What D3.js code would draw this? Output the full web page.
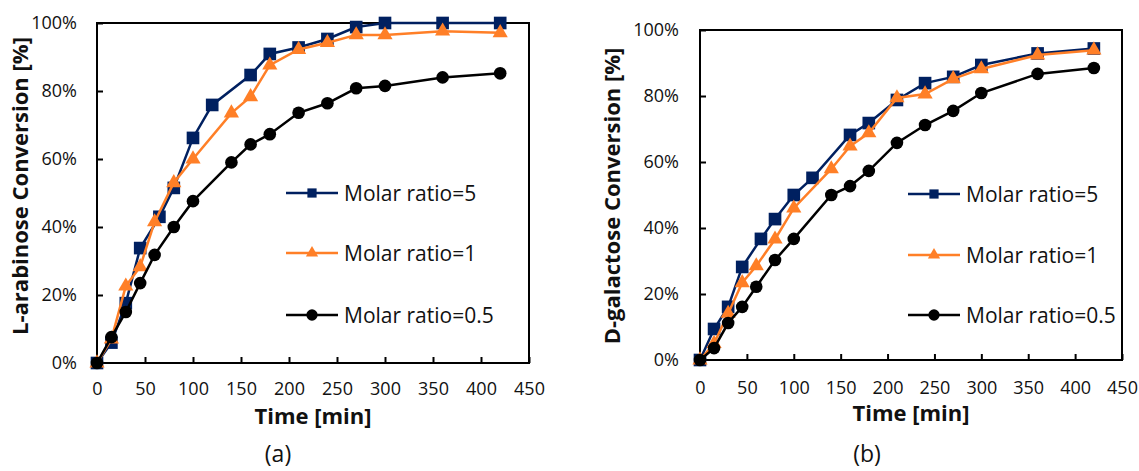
<!DOCTYPE html>
<html>
<head>
<meta charset="utf-8">
<script src="https://cdn.jsdelivr.net/npm/d3@7"></script>
<style>
  body { margin: 0; background: #fff; }
  svg { display: block; }
  text { font-family: "Open Sans", "Noto Sans", sans-serif; fill: #111; }
</style>
</head>
<body>
<svg width="1139" height="471"></svg>
<script>
// Tick values
const xTicks = [0, 50, 100, 150, 200, 250, 300, 350, 400, 450];
const yTicks = [0, 20, 40, 60, 80, 100];

// Series names
const seriesNames = ["Molar ratio=5", "Molar ratio=1", "Molar ratio=0.5"];

// Panel (a): L-arabinose
const timeA5 = [0, 15, 30, 45, 65, 80, 100, 120, 160, 180, 210, 240, 270, 300, 360, 420];
const convA5 = [0, 6, 17.6, 33.8, 43, 51.5, 66.2, 75.9, 84.7, 90.9, 92.8, 95.3, 98.8, 100, 100, 100];
const timeA1 = [0, 15, 30, 45, 60, 80, 100, 140, 160, 180, 210, 240, 270, 300, 360, 420];
const convA1 = [0, 7, 22.6, 28.3, 41.5, 53, 60, 73.5, 78.3, 87.6, 92.2, 94.2, 96.5, 96.5, 97.6, 97.1];
const timeA05 = [0, 15, 30, 45, 60, 80, 100, 140, 160, 180, 210, 240, 270, 300, 360, 420];
const convA05 = [0, 7.6, 15, 23.5, 31.8, 40, 47.6, 59, 64.3, 67.3, 73.6, 76.4, 80.8, 81.5, 84, 85.2];

// Panel (b): D-galactose
const timeB5 = [0, 15, 30, 45, 65, 80, 100, 120, 160, 180, 210, 240, 270, 300, 360, 420];
const convB5 = [0, 9.4, 16.1, 28.2, 36.7, 42.7, 50, 55.2, 68.2, 71.8, 78.8, 83.9, 85.8, 89.4, 92.9, 94.4];
const timeB1 = [0, 15, 30, 45, 60, 80, 100, 140, 160, 180, 210, 240, 270, 300, 360, 420];
const convB1 = [0, 5, 14.1, 23.4, 28.5, 36.6, 46, 57.9, 64.8, 68.8, 79.4, 80.6, 85.2, 88.2, 92.4, 93.9];
const timeB05 = [0, 15, 30, 45, 60, 80, 100, 140, 160, 180, 210, 240, 270, 300, 360, 420];
const convB05 = [0, 3.6, 11.2, 16.1, 22.2, 30.3, 36.7, 50, 52.7, 57.3, 65.8, 71.2, 75.5, 80.9, 86.7, 88.5];

const svg = d3.select("svg");

// style per series
const styles = [
  { color: "#002060", symbol: d3.symbolSquare, size: 160, legSize: 85 },
  { color: "#FF7F27", symbol: d3.symbolTriangle, size: 100, legSize: 65 },
  { color: "#000000", symbol: d3.symbolCircle, size: 125, legSize: 100 }
];

function zip(t, v) {
  return t.map((d, i) => ({ t: d, v: v[i] }));
}

function drawPanel(p) {
  const x = d3.scaleLinear().domain([0, 450]).range([p.left, p.right]);
  const y = d3.scaleLinear().domain([0, 100]).range([p.bottom, p.top]);
  const g = svg.append("g");

  // x axis, ticks pointing inside
  const xAxis = g.append("g")
      .attr("transform", `translate(0,${p.bottom})`)
      .call(d3.axisBottom(x).tickValues(xTicks).tickSizeInner(-6).tickSizeOuter(0).tickPadding(p.xPad));
  xAxis.select(".domain").remove();
  xAxis.selectAll("line").attr("stroke", "#000").attr("stroke-width", 2);
  xAxis.selectAll("text").style("font-size", "18px").attr("fill", "#111");

  // y axis
  const yAxis = g.append("g")
      .attr("transform", `translate(${p.left},0)`)
      .call(d3.axisLeft(y).tickValues(yTicks).tickFormat(d => d + "%")
        .tickSizeInner(-6).tickSizeOuter(0).tickPadding(p.yPad));
  yAxis.select(".domain").remove();
  yAxis.selectAll("line").attr("stroke", "#000").attr("stroke-width", 2);
  yAxis.selectAll("text").style("font-size", "18px").attr("fill", "#111");

  // frame
  g.append("rect")
      .attr("x", p.left).attr("y", p.top)
      .attr("width", p.right - p.left).attr("height", p.bottom - p.top)
      .attr("fill", "none").attr("stroke", "#000").attr("stroke-width", 2);

  const line = d3.line().x(d => x(d.t)).y(d => y(d.v));

  p.series.forEach((s, i) => {
    const st = styles[i];
    const data = zip(s[0], s[1]);
    g.append("path")
        .datum(data)
        .attr("fill", "none")
        .attr("stroke", st.color)
        .attr("stroke-width", 2.5)
        .attr("d", line);
    g.selectAll(null)
      .data(data)
      .join("path")
        .attr("transform", d => `translate(${x(d.t)},${y(d.v)})`)
        .attr("d", d3.symbol().type(st.symbol).size(st.size))
        .attr("fill", st.color);
  });

  // legend
  seriesNames.forEach((name, i) => {
    const st = styles[i];
    const ly = p.legY[i];
    g.append("line")
        .attr("x1", p.legX).attr("x2", p.legX + 52)
        .attr("y1", ly).attr("y2", ly)
        .attr("stroke", st.color).attr("stroke-width", 2.5);
    g.append("path")
        .attr("transform", `translate(${p.legX + 26},${ly})`)
        .attr("d", d3.symbol().type(st.symbol).size(st.legSize))
        .attr("fill", st.color);
    g.append("text")
        .attr("x", p.legX + 58).attr("y", ly)
        .attr("dy", "0.36em")
        .style("font-size", "21px")
        .text(name);
  });

  // axis titles
  g.append("text")
      .attr("x", (p.left + p.right) / 2).attr("y", p.bottom + 61)
      .attr("text-anchor", "middle")
      .style("font-size", "22px").style("font-weight", "bold")
      .text("Time [min]");
  g.append("text")
      .attr("transform", `translate(${p.yTitleX},${p.yTitleY}) rotate(-90)`)
      .attr("text-anchor", "middle")
      .attr("dy", "0.36em")
      .style("font-size", "22px").style("font-weight", "bold")
      .text(p.yTitle);

  // panel label
  g.append("text")
      .attr("x", p.labelX).attr("y", 462)
      .attr("text-anchor", "middle")
      .style("font-size", "23px")
      .text(p.label);
}

drawPanel({
  left: 97, right: 529, top: 23, bottom: 363,
  xPad: 19, yPad: 20,
  series: [[timeA5, convA5], [timeA1, convA1], [timeA05, convA05]],
  legX: 286, legY: [193, 253, 315],
  yTitle: "L-arabinose Conversion [%]", yTitleX: 20, yTitleY: 186,
  label: "(a)", labelX: 278
});

drawPanel({
  left: 700, right: 1122, top: 30, bottom: 360,
  xPad: 21, yPad: 21,
  series: [[timeB5, convB5], [timeB1, convB1], [timeB05, convB05]],
  legX: 908, legY: [194, 255, 315],
  yTitle: "D-galactose Conversion [%]", yTitleX: 612, yTitleY: 196,
  label: "(b)", labelX: 867
});
</script>
</body>
</html>
